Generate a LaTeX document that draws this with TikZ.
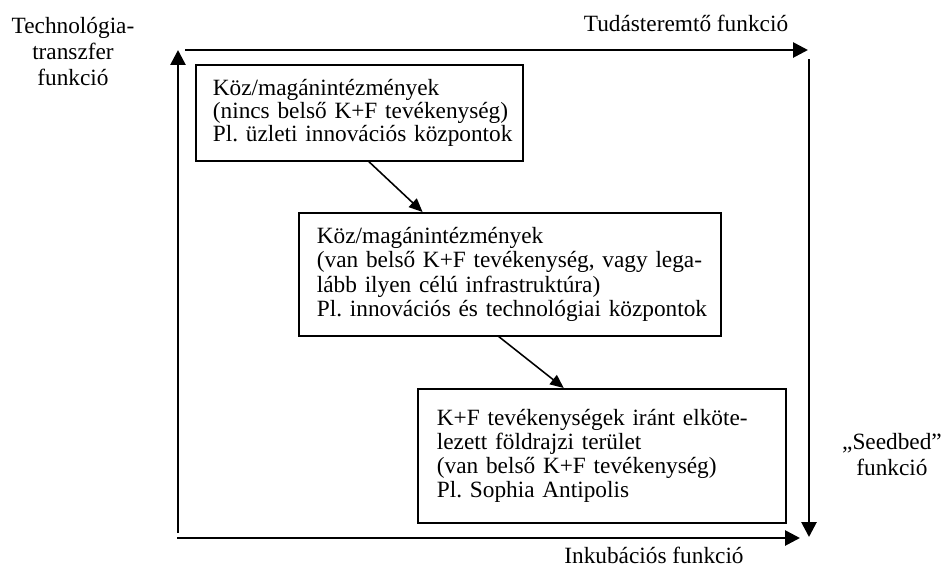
\documentclass[tikz,border=0pt]{standalone}
\usepackage{fontspec}
\setmainfont{Liberation Serif}
\frenchspacing
\usetikzlibrary{arrows.meta,calc}
\begin{document}
\begin{tikzpicture}[x=0.515pt,y=-0.515pt,
  lbl/.style={font=\fontsize{12}{13.6}\selectfont, inner sep=0pt, align=center},
  boxnode/.style={draw, line width=0.9pt, anchor=north west, align=left, inner ysep=0pt,
    font=\fontsize{12}{#1}\selectfont\frenchspacing},
  bigarrow/.style={line width=1.4pt, -{Triangle[length=7.7pt,width=7.7pt]}},
  smallarrow/.style={line width=0.8pt, -{Triangle[length=7pt,width=6pt]}}]
\useasboundingbox (0,0) rectangle (945,568);
% axis arrows
\coordinate (lstart) at (178,533);
\coordinate (lend) at (178,50);
\coordinate (tstart) at (185,50);
\coordinate (tend) at (808,50);
\coordinate (rstart) at (809,59);
\coordinate (rend) at (809,537);
\coordinate (bstart) at (177,538);
\coordinate (bend) at (800,538);
\draw[bigarrow] (lstart) -- (lend);
\draw[bigarrow] (tstart) -- (tend);
\draw[bigarrow] (rstart) -- (rend);
\draw[bigarrow] (bstart) -- (bend);
% labels
\node[lbl] (tech) at (73,51.5) {Technológia-\\transzfer\\funkció};
\node[lbl] (tudas) at (686,23) {Tudásteremtő funkció};
\node[lbl, font=\fontsize{12}{13}\selectfont] (seed) at (892,454.5) {„Seedbed”\\funkció};
\node[lbl] (inkub) at (654,555) {Inkubációs funkció};
% boxes
\node[boxnode=11.8, minimum width=168.4pt, minimum height=49.4pt, inner xsep=8.75pt, text width=150.9pt]
  (b1) at (195,64) {\mbox{Köz/magánintézmények}\\\mbox{(nincs belső K+F tevékenység)}\\\mbox{Pl. üzleti innovációs központok}};
\node[boxnode=12.6, minimum width=217.3pt, minimum height=63.3pt, inner xsep=9.27pt, text width=198.8pt]
  (b2) at (298,212) {\mbox{Köz/magánintézmények}\\\mbox{(van belső K+F tevékenység, vagy lega-}\\\mbox{lább ilyen célú infrastruktúra)}\\\mbox{Pl. innovációs és technológiai központok}};
\node[boxnode=12.2, minimum width=189.5pt, minimum height=69pt, inner xsep=9.8pt, text width=169.9pt]
  (b3) at (417,388) {\mbox{K+F tevékenységek iránt elköte-}\\\mbox{lezett földrajzi terület}\\\mbox{(van belső K+F tevékenység)}\\\mbox{Pl. Sophia Antipolis}};
% connectors
\draw[smallarrow] ($(b1.south west)!0.529!(b1.south east)$) -- ($(b2.north west)!0.294!(b2.north east)$);
\draw[smallarrow] ($(b2.south west)!0.474!(b2.south east)$) -- ($(b3.north west)!0.397!(b3.north east)$);
\end{tikzpicture}
\end{document}
